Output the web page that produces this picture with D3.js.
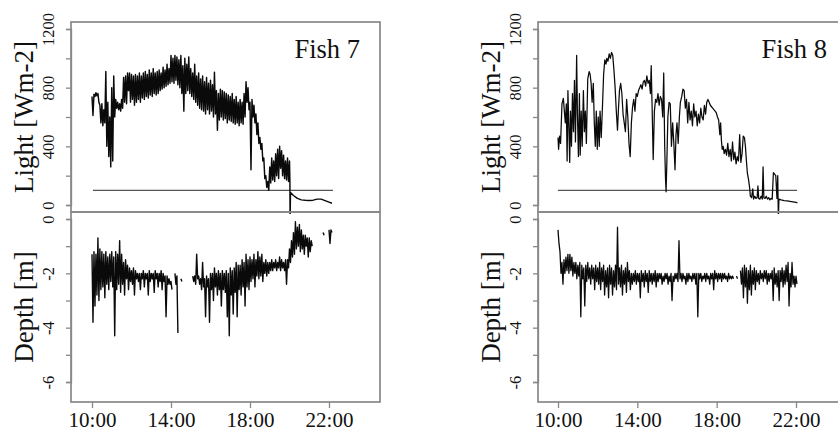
<!DOCTYPE html>
<html>
<head>
<meta charset="utf-8">
<script src="https://cdn.jsdelivr.net/npm/d3@7"></script>
<style>
  html, body { margin: 0; padding: 0; background: #fff; }
  svg { display: block; }
  text { font-family: "Liberation Serif", "Times New Roman", serif; fill: #111; }
</style>
</head>
<body>
<svg id="chart" width="838" height="436"></svg>
<script>
// ---------------- DATA ----------------
const timeTicks = [10, 14, 18, 22];
const lightTicks = [0, 200, 400, 600, 800, 1000, 1200];
const lightLabels = [0, 400, 800, 1200];
const depthTicks = [0, -1, -2, -3, -4, -5, -6];
const depthLabels = [0, -2, -4, -6];
const lightThreshold = 100;
const thresholdSpan = [[10.05, 22.2], [10.0, 22.05]];
const panelTitles = ["Fish 7", "Fish 8"];

// Fish 7 light: [low, high] per 0.1 h from 10:00 to 19:54
const fish7LightBand = [
  [610,740],[740,755],[745,765],[700,760],[560,680],[540,690],[560,650],[400,910],[330,700],[260,600],
  [300,800],[600,880],[660,720],[650,700],[640,690],[660,720],[700,870],[690,880],[780,900],[700,900],
  [720,890],[680,880],[700,890],[720,880],[700,900],[730,880],[720,900],[740,910],[730,890],[750,920],
  [740,900],[760,930],[750,900],[760,910],[780,920],[790,900],[800,940],[810,920],[820,960],[830,930],
  [840,1020],[830,1000],[850,1020],[820,1010],[800,990],[760,1020],[640,950],[760,1000],[780,960],[760,1010],
  [740,930],[720,900],[700,960],[680,880],[660,900],[650,860],[640,880],[620,840],[650,870],[620,830],
  [640,850],[600,820],[620,905],[510,780],[580,760],[600,790],[580,780],[590,770],[560,760],[580,750],
  [570,740],[560,760],[550,720],[560,740],[540,700],[560,720],[550,700],[600,760],[700,840],[650,800],
  [240,700],[600,720],[560,680],[480,620],[420,560],[380,460],[300,420],[180,320],[120,200],[100,160],
  [150,260],[170,320],[160,300],[200,350],[180,380],[250,400],[200,370],[180,340],[170,300],[160,320]
];
// Fish 7 light: drop and evening tail [hour, value]
const fish7LightTail = [
  [20.00,300],[20.02,170],[20.03,-100],[20.05,85],[20.2,65],[20.4,45],[20.6,35],[20.8,32],
  [21.0,31],[21.2,33],[21.4,40],[21.6,40],[21.8,30],[22.0,20],[22.15,12]
];
// Fish 8 light [hour, value]
const fish8Light = [
  [10.00,460],[10.03,380],[10.08,470],[10.13,420],[10.20,690],[10.27,727],[10.32,640],[10.37,560],[10.42,690],[10.46,300],
  [10.50,780],[10.55,520],[10.59,290],[10.63,640],[10.68,400],[10.73,760],[10.78,500],[10.83,850],[10.88,430],[10.94,1020],
  [10.98,620],[11.03,330],[11.08,760],[11.12,340],[11.17,640],[11.22,400],[11.28,780],[11.33,500],[11.38,640],[11.43,420],
  [11.50,860],[11.57,910],[11.62,890],[11.67,830],[11.72,700],[11.78,830],[11.83,560],[11.88,400],[11.93,640],[11.98,380],
  [12.03,600],[12.08,400],[12.12,640],[12.18,460],[12.25,700],[12.30,890],[12.36,990],[12.42,960],[12.46,1000],[12.52,980],
  [12.58,1030],[12.64,1000],[12.70,1040],[12.76,1020],[12.82,920],[12.88,800],[12.94,640],[13.00,510],[13.05,660],[13.10,780],
  [13.16,830],[13.22,760],[13.28,620],[13.34,560],[13.40,500],[13.46,720],[13.52,600],[13.58,420],[13.64,330],[13.70,560],
  [13.76,670],[13.82,720],[13.88,640],[13.94,760],[14.00,740],[14.06,780],[14.12,800],[14.18,820],[14.24,790],[14.30,840],
  [14.36,850],[14.42,810],[14.48,880],[14.54,830],[14.60,850],[14.66,760],[14.70,950],[14.74,700],[14.80,310],[14.86,640],
  [14.92,720],[14.98,700],[15.04,760],[15.10,680],[15.16,740],[15.22,720],[15.28,600],[15.33,900],[15.38,400],[15.42,180],
  [15.45,90],[15.49,300],[15.54,600],[15.60,700],[15.66,690],[15.72,400],[15.78,560],[15.84,420],[15.90,240],[15.95,480],
  [16.00,560],[16.06,420],[16.12,600],[16.17,700],[16.24,740],[16.30,790],[16.36,780],[16.42,660],[16.48,720],[16.54,560],
  [16.60,700],[16.66,580],[16.72,640],[16.78,540],[16.84,690],[16.90,600],[16.96,640],[17.02,540],[17.08,620],[17.14,560],
  [17.20,660],[17.26,600],[17.32,580],[17.38,680],[17.44,620],[17.50,700],[17.56,720],[17.62,700],[17.68,680],[17.74,670],
  [17.80,660],[17.86,650],[17.92,640],[17.98,630],[18.04,600],[18.10,580],[18.16,480],[18.20,560],[18.24,440],[18.28,380],
  [18.33,400],[18.38,350],[18.44,380],[18.50,340],[18.56,420],[18.62,330],[18.68,380],[18.74,300],[18.80,430],[18.86,310],
  [18.92,360],[18.98,280],[19.04,330],[19.10,300],[19.16,480],[19.22,290],[19.28,350],[19.34,470],[19.40,460],[19.45,400],
  [19.50,300],[19.55,215],[19.60,180],[19.66,120],[19.70,60],[19.76,50],[19.82,110],[19.86,40],[19.92,60],[19.98,45],
  [20.04,50],[20.08,130],[20.12,45],[20.18,40],[20.24,60],[20.30,40],[20.34,260],[20.38,50],[20.44,45],[20.50,60],
  [20.56,40],[20.62,50],[20.68,35],[20.74,45],[20.80,40],[20.86,220],[20.92,210],[20.98,200],[21.04,45],[21.08,200],
  [21.11,-100],[21.14,40],[21.25,35],[21.40,30],[21.55,28],[21.70,25],[21.85,22],[22.00,18],[22.07,14]
];

// Depth: [deepest, shallowest] per 0.1 h from 10:00 (null = no data)
const fish7DepthBand = [
  [-3.8,-1.3],[-3.2,-1.2],[-2.8,-1.3],[-3.0,-0.7],[-2.6,-1.1],[-2.5,-1.2],[-2.9,-1.3],[-2.4,-1.2],[-2.6,-1.4],[-2.3,-1.3],
  [-2.5,-1.2],[-4.3,-1.4],[-2.6,-1.2],[-2.4,-1.3],[-2.7,-0.8],[-2.4,-1.3],[-2.8,-1.6],[-2.2,-1.5],[-2.6,-1.7],[-2.3,-1.8],
  [-2.4,-1.9],[-2.8,-1.8],[-2.2,-1.9],[-2.3,-2.0],[-2.6,-2.0],[-2.2,-2.0],[-2.5,-1.9],[-2.2,-2.0],[-2.8,-2.0],[-2.3,-1.9],
  [-2.2,-2.0],[-2.7,-2.0],[-2.2,-1.9],[-2.5,-2.0],[-2.3,-2.0],[-2.6,-1.9],[-2.3,-2.0],[-3.6,-2.1],[-2.4,-2.1],[-2.4,-2.2],
  [-2.6,-2.3],null,[-2.4,-2.0],[-4.2,-2.1],null,[-2.3,-2.2],null,null,null,null,
  null,[-2.3,-2.1],[-2.4,-2.1],[-2.2,-1.3],[-2.4,-2.1],[-2.6,-2.2],[-2.5,-1.6],[-3.6,-2.2],[-2.5,-2.1],[-3.8,-2.2],
  [-2.6,-2.0],[-3.0,-2.0],[-2.5,-1.8],[-2.8,-2.0],[-2.6,-1.9],[-3.2,-2.0],[-2.6,-1.9],[-2.7,-2.0],[-3.6,-1.9],[-4.3,-2.0],
  [-2.8,-1.8],[-3.5,-1.9],[-2.7,-1.8],[-3.6,-1.6],[-2.6,-1.7],[-2.8,-1.7],[-2.5,-1.5],[-3.2,-1.6],[-2.5,-1.3],[-2.6,-1.5],
  [-2.3,-1.4],[-2.2,-1.5],[-2.5,-1.3],[-2.1,-1.5],[-2.2,-1.2],[-2.1,-1.4],[-2.3,-1.3],[-2.0,-1.6],[-2.1,-1.5],[-2.0,-1.6],
  [-1.9,-1.6],[-1.9,-1.5],[-1.8,-1.6],[-1.9,-1.5],[-1.8,-1.6],[-1.9,-1.4],[-1.8,-1.5],[-1.9,-1.6],[-2.4,-1.5],[-1.8,-1.5],
  [-1.6,-1.1],[-1.4,-0.8],[-1.3,-0.5],[-1.1,-0.1],[-1.0,-0.3],[-1.2,-0.2],[-1.1,-0.4],[-1.3,-0.6],[-1.0,-0.6],[-1.4,-0.7],
  [-1.2,-0.7],[-1.0,-0.8],null,null,null,null,null,[-0.6,-0.5],null,null,
  [-0.9,-0.4],[-0.5,-0.4]
];
const fish8DepthBand = [
  [-0.9,-0.4],[-2.0,-1.2],[-2.4,-1.6],[-2.0,-1.5],[-1.9,-1.4],[-2.0,-1.3],[-1.9,-1.3],[-2.1,-1.4],[-2.0,-1.6],[-2.2,-1.6],
  [-2.1,-1.7],[-3.6,-1.6],[-2.2,-1.7],[-3.2,-1.8],[-2.3,-1.7],[-2.2,-1.6],[-2.4,-1.8],[-2.2,-1.7],[-2.6,-1.8],[-2.3,-1.7],
  [-2.4,-1.8],[-2.6,-1.6],[-2.3,-1.8],[-2.8,-1.7],[-2.5,-1.9],[-2.9,-1.8],[-2.4,-1.7],[-2.8,-1.8],[-2.5,-1.9],[-2.6,-1.7],
  [-2.4,-0.3],[-2.5,-1.8],[-2.8,-1.7],[-2.4,-1.9],[-2.7,-1.8],[-2.3,-1.6],[-2.6,-1.9],[-2.4,-2.0],[-2.3,-2.0],[-2.4,-1.9],
  [-2.3,-2.0],[-2.9,-2.0],[-2.3,-1.9],[-2.5,-2.0],[-2.3,-1.9],[-2.7,-2.0],[-2.3,-1.9],[-2.4,-2.0],[-2.3,-2.0],[-2.5,-1.9],
  [-2.3,-2.0],[-2.2,-2.0],[-2.4,-2.0],[-2.3,-2.1],[-2.2,-2.0],[-2.4,-2.0],[-2.3,-2.1],[-3.0,-2.0],[-2.3,-2.1],[-2.2,-2.0],
  [-2.3,-2.0],[-2.2,-0.8],[-2.3,-2.0],[-2.2,-2.0],[-2.4,-2.1],[-2.3,-2.0],[-2.2,-2.0],[-2.3,-2.1],[-2.2,-2.0],[-2.4,-2.0],
  [-3.6,-2.0],[-2.2,-2.0],[-2.3,-2.0],[-2.2,-2.1],[-2.3,-2.0],[-2.2,-2.0],[-2.4,-2.1],[-2.2,-2.0],[-2.6,-2.0],[-2.2,-1.9],
  [-2.3,-2.0],[-2.2,-2.0],[-2.3,-2.0],[-2.2,-2.0],[-2.2,-2.0],[-2.3,-2.1],[-2.2,-2.0],[-2.2,-2.1],[-2.2,-2.1],null,
  [-2.2,-2.1],null,[-2.4,-1.9],[-2.9,-1.8],[-2.5,-1.7],[-3.1,-1.8],[-2.6,-1.9],[-2.8,-1.7],[-2.4,-1.9],[-2.6,-1.8],
  [-2.3,-1.9],[-2.4,-2.0],[-2.2,-1.9],[-2.3,-2.0],[-2.2,-1.9],[-2.4,-1.9],[-2.3,-2.0],[-2.2,-2.0],[-3.0,-1.9],[-2.4,-1.8],
  [-2.5,-2.0],[-3.0,-1.9],[-2.3,-1.9],[-2.5,-1.8],[-2.4,-1.9],[-2.3,-1.7],[-3.2,-1.6],[-2.5,-2.0],[-2.4,-1.6],[-2.5,-2.1],
  [-2.4,-2.1]
];
const bandStart = 10.0, bandStep = 0.1;

// ---------------- LAYOUT ----------------
const svg = d3.select("#chart");
const panels = [
  { left: 71, right: 380, xr: [92, 329] },
  { left: 538, right: 847, xr: [558, 796] }
];
const topY = 22, midY = 212, botY = 402;
const fontFamily = '"Liberation Serif", "Times New Roman", serif';

function bandToPoints(band) {
  const pts = [];
  band.forEach((b, i) => {
    const t = bandStart + i * bandStep;
    if (b === null) { pts.push(null); return; }
    pts.push([t, b[1]]);
    pts.push([t + bandStep / 2, b[0]]);
  });
  return pts;
}

const lightSeries = [
  bandToPoints(fish7LightBand).concat(fish7LightTail),
  fish8Light
];
const depthSeries = [bandToPoints(fish7DepthBand), bandToPoints(fish8DepthBand)];
const lightWidths = [1.45, 1.25];
const depthWidths = [1.4, 1.3];

const defs = svg.append("defs");

panels.forEach((p, k) => {
  const x = d3.scaleLinear().domain([10, 22]).range(p.xr);
  const yL = d3.scaleLinear().domain([0, 1200]).range([205, 29]);
  const yD = d3.scaleLinear().domain([0, -6]).range([219, 382]);
  const g = svg.append("g");

  defs.append("clipPath").attr("id", "clipL" + k)
    .append("rect").attr("x", p.left).attr("y", topY).attr("width", p.right - p.left).attr("height", midY + 2 - topY);
  defs.append("clipPath").attr("id", "clipD" + k)
    .append("rect").attr("x", p.left).attr("y", midY).attr("width", p.right - p.left).attr("height", botY - midY);

  g.append("line")
    .attr("x1", x(thresholdSpan[k][0])).attr("x2", x(thresholdSpan[k][1]))
    .attr("y1", yL(lightThreshold)).attr("y2", yL(lightThreshold))
    .attr("stroke", "#555").attr("stroke-width", 1.4);

  const lineL = d3.line().defined(d => d !== null).x(d => x(d[0])).y(d => yL(d[1]));
  const lineD = d3.line().defined(d => d !== null).x(d => x(d[0])).y(d => yD(d[1]));

  g.append("path").attr("d", lineL(lightSeries[k]))
    .attr("clip-path", "url(#clipL" + k + ")")
    .attr("fill", "none").attr("stroke", "#0a0a0a").attr("stroke-width", lightWidths[k]).attr("stroke-linejoin", "round");
  g.append("path").attr("d", lineD(depthSeries[k]))
    .attr("clip-path", "url(#clipD" + k + ")")
    .attr("fill", "none").attr("stroke", "#0a0a0a").attr("stroke-width", depthWidths[k]).attr("stroke-linejoin", "round");

  g.append("rect").attr("x", p.left).attr("y", topY).attr("width", p.right - p.left).attr("height", midY - topY)
    .attr("fill", "none").attr("stroke", "#888").attr("stroke-width", 1.7);
  g.append("rect").attr("x", p.left).attr("y", midY).attr("width", p.right - p.left).attr("height", botY - midY)
    .attr("fill", "none").attr("stroke", "#888").attr("stroke-width", 1.7);

  const axL = d3.axisLeft(yL).tickValues(lightTicks).tickSize(5)
    .tickFormat(d => lightLabels.includes(d) ? String(d) : "");
  const gL = g.append("g").attr("transform", `translate(${p.left},0)`).call(axL);
  const axD = d3.axisLeft(yD).tickValues(depthTicks).tickSize(5)
    .tickFormat(d => depthLabels.includes(d) ? String(d) : "");
  const gD = g.append("g").attr("transform", `translate(${p.left},0)`).call(axD);
  [gL, gD].forEach(ga => {
    ga.attr("font-family", null);
    ga.select(".domain").attr("stroke", "#888").attr("stroke-width", 1.3);
    ga.selectAll(".tick line").attr("stroke", "#888").attr("stroke-width", 1.3);
    ga.selectAll(".tick text")
      .style("font-family", fontFamily).style("font-size", "16.5px").attr("fill", "#111")
      .attr("text-anchor", "middle").attr("dy", null)
      .attr("x", null)
      .attr("transform", "translate(-17,0) rotate(-90)")
      .attr("y", 0);
  });

  const axT = d3.axisBottom(x).tickValues(timeTicks).tickSize(6)
    .tickFormat(d => String(d).padStart(2, "0") + ":00");
  const gT = g.append("g").attr("transform", `translate(0,${botY})`).call(axT);
  gT.attr("font-family", null);
  gT.select(".domain").remove();
  gT.selectAll(".tick line").attr("stroke", "#888").attr("stroke-width", 1.3);
  gT.selectAll(".tick text").style("font-family", fontFamily).style("font-size", "21px")
    .attr("fill", "#111").attr("y", 25).attr("dy", null);

  const tx = p.left - 38;
  g.append("text").attr("transform", `translate(${tx},${(topY + midY) / 2}) rotate(-90)`)
    .attr("text-anchor", "middle").style("font-family", fontFamily).style("font-size", "27px").text("Light [Wm-2]");
  g.append("text").attr("transform", `translate(${tx},${(midY + botY) / 2}) rotate(-90)`)
    .attr("text-anchor", "middle").style("font-family", fontFamily).style("font-size", "27px").text("Depth [m]");

  g.append("text").attr("x", p.left + 289).attr("y", 58)
    .attr("text-anchor", "end").style("font-family", fontFamily).style("font-size", "26.5px").text(panelTitles[k]);
});
</script>
</body>
</html>
